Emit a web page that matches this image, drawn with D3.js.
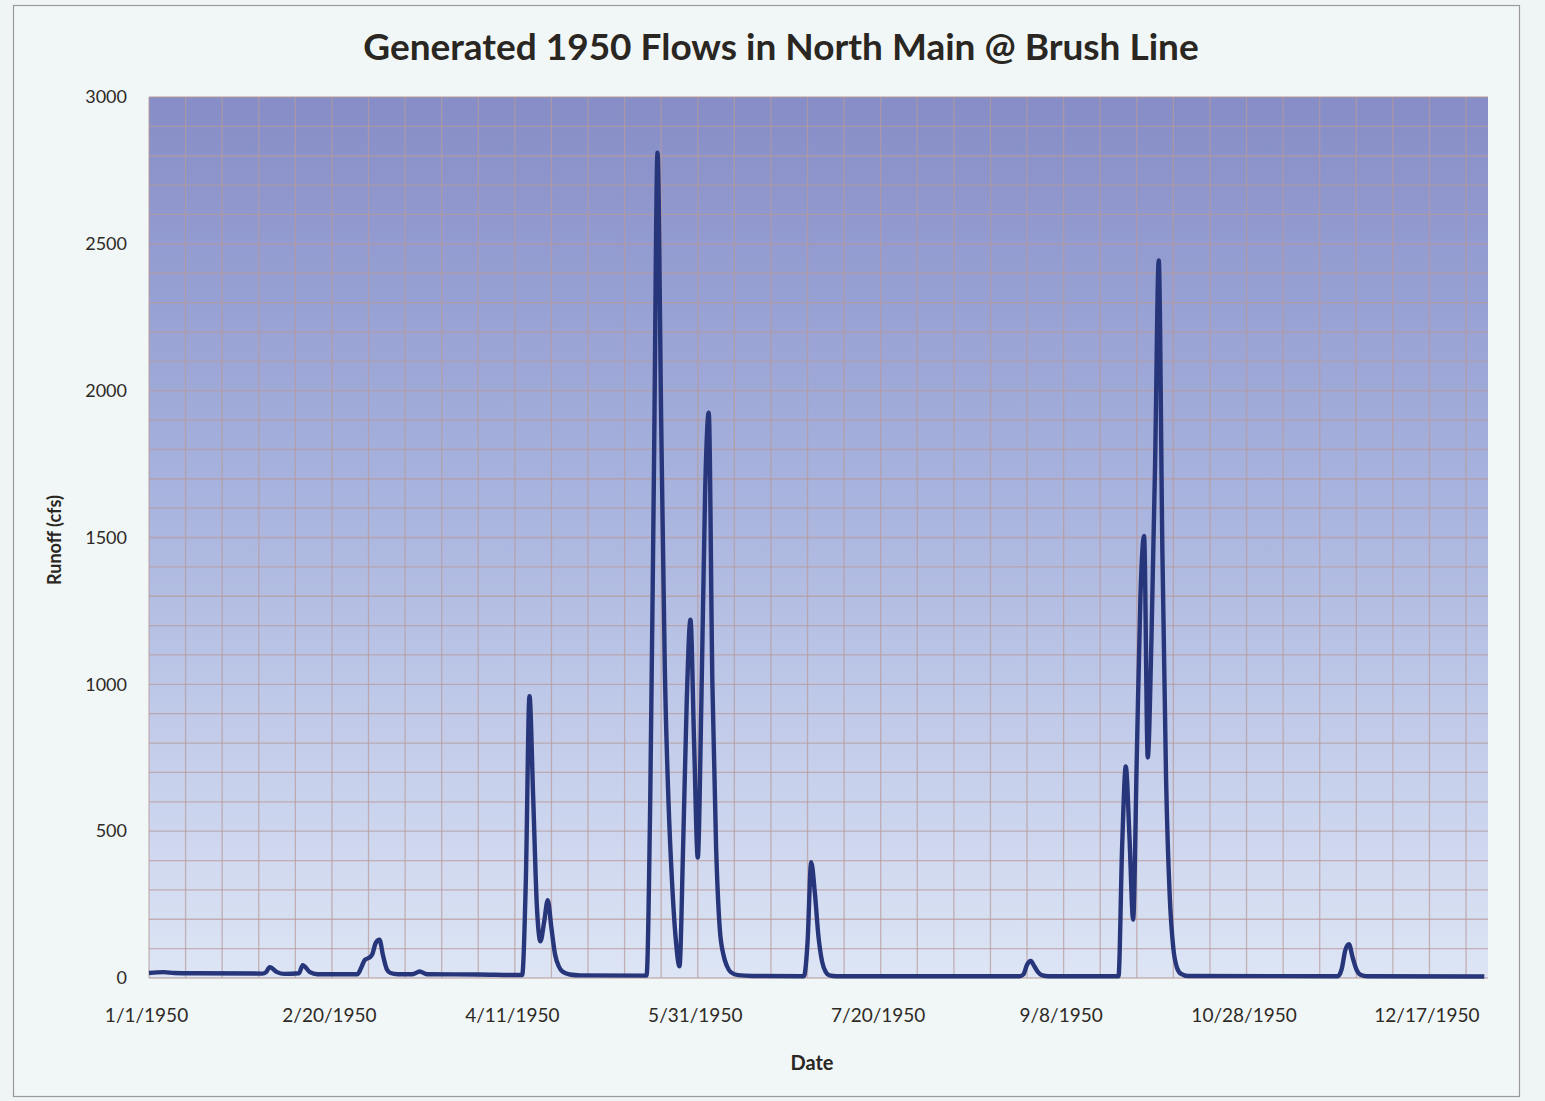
<!DOCTYPE html>
<html>
<head>
<meta charset="utf-8">
<script src="https://cdn.jsdelivr.net/npm/d3@7"></script>
<style>
  html, body { margin: 0; padding: 0; background: #eef5f4; }
  svg { display: block; }
  .axis text { font-family: Lato, "Open Sans", sans-serif; fill: #2e2a26; }
</style>
</head>
<body>
<svg id="chart" width="1545" height="1101"></svg>
<script>
// daily flows (cfs), only the days that shape the curve
var flowDates = [
  "1950-01-01", "1950-01-05", "1950-01-08", "1950-01-14", "1950-02-01", "1950-02-02", "1950-02-03", "1950-02-05",
  "1950-02-07", "1950-02-11", "1950-02-12", "1950-02-14", "1950-02-16", "1950-02-27", "1950-02-28", "1950-03-01",
  "1950-03-02", "1950-03-03", "1950-03-04", "1950-03-05", "1950-03-06", "1950-03-07", "1950-03-08", "1950-03-10",
  "1950-03-14", "1950-03-16", "1950-03-18", "1950-04-01", "1950-04-13", "1950-04-14", "1950-04-15", "1950-04-16",
  "1950-04-17", "1950-04-18", "1950-04-19", "1950-04-20", "1950-04-21", "1950-04-22", "1950-04-23", "1950-04-24",
  "1950-04-26", "1950-04-29", "1950-05-17", "1950-05-18", "1950-05-19", "1950-05-20", "1950-05-21", "1950-05-22",
  "1950-05-23", "1950-05-24", "1950-05-25", "1950-05-26", "1950-05-27", "1950-05-28", "1950-05-29", "1950-05-30",
  "1950-05-31", "1950-06-01", "1950-06-02", "1950-06-03", "1950-06-04", "1950-06-05", "1950-06-06", "1950-06-07",
  "1950-06-08", "1950-06-09", "1950-06-11", "1950-06-15", "1950-06-29", "1950-06-30", "1950-07-01", "1950-07-02",
  "1950-07-03", "1950-07-04", "1950-07-05", "1950-07-06", "1950-07-08", "1950-08-27", "1950-08-28", "1950-08-29",
  "1950-08-30", "1950-08-31", "1950-09-01", "1950-09-02", "1950-09-04", "1950-09-23", "1950-09-24", "1950-09-25",
  "1950-09-26", "1950-09-27", "1950-09-28", "1950-09-29", "1950-09-30", "1950-10-01", "1950-10-02", "1950-10-03",
  "1950-10-04", "1950-10-05", "1950-10-06", "1950-10-07", "1950-10-08", "1950-10-09", "1950-10-10", "1950-10-12",
  "1950-11-22", "1950-11-23", "1950-11-24", "1950-11-25", "1950-11-26", "1950-11-27", "1950-11-28", "1950-11-30",
  "1951-01-01"
];

var flows = [
  17, 20, 17, 16, 15, 20, 37, 20,
  14, 16, 44, 20, 13, 13, 35, 62,
  68, 80, 120, 130, 75, 30, 17, 13,
  13, 22, 13, 12, 10, 330, 960, 620,
  250, 125, 190, 265, 170, 80, 40, 22,
  12, 9, 8, 600, 1700, 2810, 1900, 1050,
  600, 320, 130, 40, 450, 950, 1220, 800,
  410, 950, 1650, 1925, 1000, 450, 170, 80,
  40, 20, 10, 7, 6, 120, 394, 290,
  140, 55, 20, 9, 6, 6, 12, 45,
  58, 40, 20, 10, 6, 6, 450, 720,
  480, 199, 750, 1300, 1505, 751, 1150, 1750,
  2443, 1450, 680, 280, 100, 35, 15, 7,
  6, 30, 95, 115, 70, 30, 12, 6,
  5
];

var tickDates = ["1950-01-01", "1950-02-20", "1950-04-11", "1950-05-31", "1950-07-20", "1950-09-08", "1950-10-28", "1950-12-17"];
var yTicks = [0, 500, 1000, 1500, 2000, 2500, 3000];

var svg = d3.select("#chart"),
    margin = { top: 97, right: 57, bottom: 120, left: 149 },
    width = 1545 - margin.left - margin.right,
    height = 1101 - margin.top - margin.bottom - 3;

var parseDate = d3.utcParse("%Y-%m-%d");
var fmt = d3.utcFormat("%-m/%-d/%Y");

var data = flowDates.map(function (d, i) {
    return { date: parseDate(d), flow: flows[i] };
});

var x = d3.scaleUtc()
    .domain([parseDate("1950-01-01"), parseDate("1951-01-02")])
    .range([0, width]);

var y = d3.scaleLinear()
    .domain([0, 3000])
    .range([height, 0]);

// outer frame
svg.append("rect")
    .attr("x", 13.5).attr("y", 5.5)
    .attr("width", 1506).attr("height", 1091)
    .attr("fill", "#f1f7f6")
    .attr("stroke", "#9a9a9a")
    .attr("stroke-width", 1.2);

var defs = svg.append("defs");
var grad = defs.append("linearGradient")
    .attr("id", "plotbg")
    .attr("x1", 0).attr("y1", 0).attr("x2", 0).attr("y2", 1);
grad.append("stop").attr("offset", "0%").attr("stop-color", "#868dc7");
grad.append("stop").attr("offset", "45%").attr("stop-color", "#a8b3de");
grad.append("stop").attr("offset", "100%").attr("stop-color", "#dde5f5");

var g = svg.append("g").attr("transform", "translate(" + margin.left + "," + margin.top + ")");

g.append("rect")
    .attr("width", width)
    .attr("height", height)
    .attr("fill", "url(#plotbg)");

// grid: 10 day columns, 100 cfs rows
var gridDays = d3.utcDay.range(parseDate("1950-01-01"), parseDate("1951-01-02")).filter(function (d, i) {
    return i % 10 === 0;
});

g.append("g")
    .selectAll("line")
    .data(gridDays)
    .enter().append("line")
    .attr("x1", function (d) { return x(d); })
    .attr("x2", function (d) { return x(d); })
    .attr("y1", 0)
    .attr("y2", height)
    .attr("stroke", "#b89a9a")
    .attr("stroke-opacity", 0.7)
    .attr("stroke-width", 1.3);

g.append("g")
    .selectAll("line")
    .data(d3.range(0, 3001, 100))
    .enter().append("line")
    .attr("x1", 0)
    .attr("x2", width)
    .attr("y1", function (d) { return y(d); })
    .attr("y2", function (d) { return y(d); })
    .attr("stroke", "#b89a9a")
    .attr("stroke-opacity", 0.7)
    .attr("stroke-width", 1.3);

var line = d3.line()
    .x(function (d) { return x(d.date); })
    .y(function (d) { return y(d.flow); })
    .curve(d3.curveMonotoneX);

g.append("path")
    .datum(data)
    .attr("fill", "none")
    .attr("stroke", "#27367a")
    .attr("stroke-width", 4.4)
    .attr("stroke-linejoin", "round")
    .attr("d", line);

// axes
var xAxis = g.append("g")
    .attr("class", "axis")
    .attr("transform", "translate(0," + height + ")")
    .call(d3.axisBottom(x)
        .tickValues(tickDates.map(parseDate))
        .tickFormat(fmt)
        .tickSize(0)
        .tickPadding(31));
xAxis.select(".domain").remove();
xAxis.selectAll("text").attr("font-size", 19).attr("dx", -3);

var yAxis = g.append("g")
    .attr("class", "axis")
    .call(d3.axisLeft(y)
        .tickValues(yTicks)
        .tickFormat(d3.format("d"))
        .tickSize(0)
        .tickPadding(22));
yAxis.select(".domain").remove();
yAxis.selectAll("text").attr("font-size", 18);

// titles
svg.append("text")
    .attr("x", 781)
    .attr("y", 60)
    .attr("text-anchor", "middle")
    .attr("font-family", "Lato, 'Open Sans', sans-serif")
    .attr("font-weight", "bold")
    .attr("font-size", 37)
    .attr("fill", "#2a2622")
    .text("Generated 1950 Flows in North Main @ Brush Line");

svg.append("text")
    .attr("transform", "translate(61,540) rotate(-90)")
    .attr("text-anchor", "middle")
    .attr("font-family", "Lato, 'Open Sans', sans-serif")
    .attr("font-weight", "bold")
    .attr("font-size", 18)
    .attr("fill", "#2a2622")
    .text("Runoff (cfs)");

svg.append("text")
    .attr("x", 812)
    .attr("y", 1070)
    .attr("text-anchor", "middle")
    .attr("font-family", "Lato, 'Open Sans', sans-serif")
    .attr("font-weight", "bold")
    .attr("font-size", 20)
    .attr("fill", "#2a2622")
    .text("Date");
</script>
</body>
</html>
